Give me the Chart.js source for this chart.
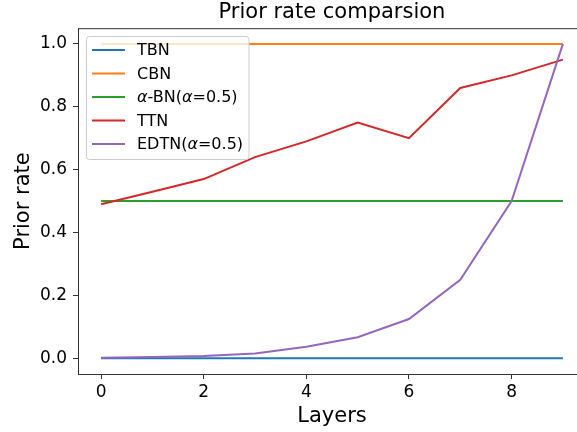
<!DOCTYPE html>
<html>
<head>
<meta charset="utf-8">
<script src="https://cdn.jsdelivr.net/npm/chart.js@4/dist/chart.umd.min.js"></script>
<style>
  html, body { margin: 0; padding: 0; background: #fff; }
  #wrap { width: 577px; height: 432px; overflow: hidden; }
</style>
</head>
<body>
<div id="wrap"><canvas id="prior-chart" width="600" height="432"></canvas></div>
<script>
/************/
/*** DATA ***/
/************/

const layers = [0, 1, 2, 3, 4, 5, 6, 7, 8, 9];
const tbn = [0, 0, 0, 0, 0, 0, 0, 0, 0, 0];
const cbn = [1, 1, 1, 1, 1, 1, 1, 1, 1, 1];
const alphaBn = [0.5, 0.5, 0.5, 0.5, 0.5, 0.5, 0.5, 0.5, 0.5, 0.5];
const ttn = [0.49, 0.53, 0.57, 0.64, 0.69, 0.75, 0.70, 0.86, 0.90, 0.95];
const edtn = [0.002, 0.004, 0.007, 0.015, 0.037, 0.067, 0.125, 0.25, 0.5, 1.0];

const seriesNames = ['TBN', 'CBN', 'α-BN(α=0.5)', 'TTN', 'EDTN(α=0.5)'];
const seriesValues = [tbn, cbn, alphaBn, ttn, edtn];
const seriesColors = ['#1f77b4', '#ff7f0e', '#2ca02c', '#d62728', '#9467bd'];

const xTicks = [0, 2, 4, 6, 8];
const yTicks = [0, 0.2, 0.4, 0.6, 0.8, 1.0];

/*****************/
/*** FUNCTIONS ***/
/*****************/

const FONT = '"DejaVu Sans", sans-serif';

function toPoints(values) {
    return layers.map((x, i) => ({x: x, y: values[i]}));
}

// Draw a label, greek alpha in italic like matplotlib mathtext
function drawMixedText(ctx, text, x, y) {
    const parts = text.split(/(α)/);
    for (const part of parts) {
        if (!part) continue;
        ctx.font = (part === 'α' ? 'italic ' : '') + '16px ' + FONT;
        ctx.fillText(part, x, y);
        x += ctx.measureText(part).width;
    }
}

// Top spine + legend box inside the axes (upper left)
const framePlugin = {
    id: 'frame',
    afterDatasetsDraw(chart) {
        const ctx = chart.ctx;
        const area = chart.chartArea;
        ctx.save();
        ctx.strokeStyle = '#333';
        ctx.lineWidth = 1;
        ctx.beginPath();
        ctx.moveTo(area.left, area.top + 0.5);
        ctx.lineTo(area.right, area.top + 0.5);
        ctx.stroke();

        // legend
        const bx = 86.5, by = 36.5, bw = 162.5, bh = 123, r = 3;
        ctx.beginPath();
        ctx.roundRect(bx, by, bw, bh, r);
        ctx.fillStyle = 'rgba(255,255,255,0.8)';
        ctx.fill();
        ctx.strokeStyle = '#cccccc';
        ctx.lineWidth = 1;
        ctx.stroke();

        ctx.textBaseline = 'middle';
        ctx.textAlign = 'left';
        seriesNames.forEach((name, i) => {
            const cy = 50 + i * 23.5;
            ctx.strokeStyle = seriesColors[i];
            ctx.lineWidth = 2;
            ctx.beginPath();
            ctx.moveTo(92, cy);
            ctx.lineTo(125, cy);
            ctx.stroke();
            ctx.fillStyle = '#000';
            drawMixedText(ctx, name, 137, cy + 1);
        });
        ctx.restore();
    }
};

/****************/
/*** Plotting ***/
/****************/

const ctx = document.getElementById('prior-chart');
const chart = new Chart(ctx, {
    type: 'line',
    data: {
        datasets: seriesNames.map((name, i) => ({
            label: name,
            data: toPoints(seriesValues[i]),
            borderColor: seriesColors[i],
            backgroundColor: seriesColors[i],
            borderWidth: 2,
            pointRadius: 0,
            tension: 0,
            order: seriesNames.length - 1 - i
        }))
    },
    options: {
        responsive: false,
        animation: false,
        devicePixelRatio: 1,
        layout: {padding: {left: 0, right: 14, top: 0, bottom: 0}},
        plugins: {
            legend: {display: false},
            tooltip: {enabled: false},
            title: {
                display: true,
                text: 'Prior rate comparsion',
                fullSize: false,
                color: '#000',
                font: {family: FONT, size: 21, weight: 'normal'},
                padding: {top: 0, bottom: 3}
            }
        },
        scales: {
            x: {
                type: 'linear',
                min: -0.45,
                max: 9.45,
                afterBuildTicks: (scale) => { scale.ticks = xTicks.map(v => ({value: v})); },
                afterFit: (scale) => { scale.height = 58; },
                grid: {drawOnChartArea: false, drawTicks: true, tickLength: 5, color: '#333', tickWidth: 1},
                border: {display: true, color: '#333', width: 1},
                ticks: {color: '#000', padding: 3, font: {family: FONT, size: 17}, maxRotation: 0,
                        callback: (v) => String(v)},
                title: {display: true, text: 'Layers', color: '#000',
                        font: {family: FONT, size: 21}, padding: {top: 0, bottom: 3}}
            },
            y: {
                type: 'linear',
                min: -0.05,
                max: 1.05,
                afterBuildTicks: (scale) => { scale.ticks = yTicks.map(v => ({value: v})); },
                afterFit: (scale) => { scale.width = 78; },
                grid: {drawOnChartArea: false, drawTicks: true, tickLength: 5, color: '#333', tickWidth: 1},
                border: {display: true, color: '#333', width: 1},
                ticks: {color: '#000', padding: 6, font: {family: FONT, size: 17},
                        callback: (v) => Number(v).toFixed(1)},
                title: {display: true, text: 'Prior rate', color: '#000',
                        font: {family: FONT, size: 21}, padding: {top: 11, bottom: 0}}
            }
        }
    },
    plugins: [framePlugin]
});
</script>
</body>
</html>
